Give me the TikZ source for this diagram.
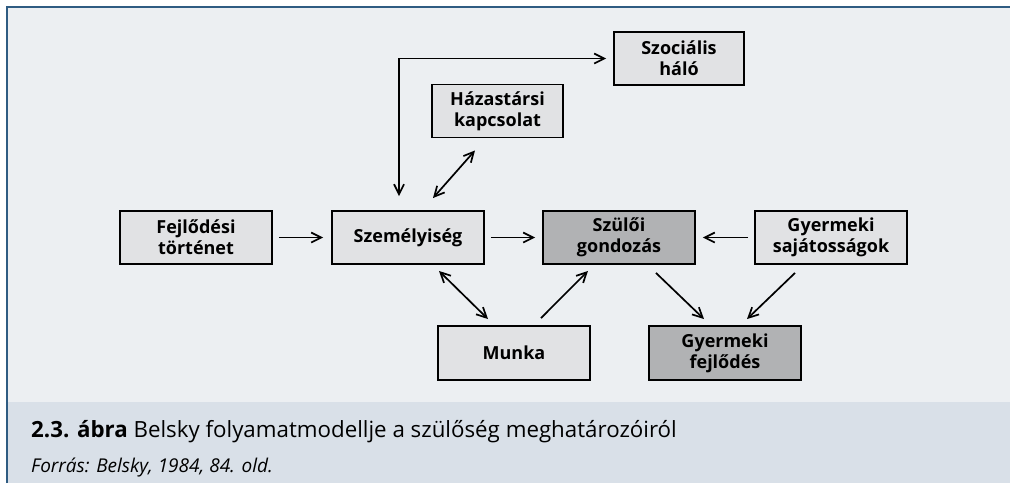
\documentclass[tikz,border=0pt]{standalone}
\usepackage{fontspec}
\setmainfont{Open Sans}
\usetikzlibrary{arrows.meta,calc}
\definecolor{panel}{HTML}{ECEFF2}
\definecolor{band}{HTML}{D9E0E8}
\definecolor{frame}{HTML}{2F5C82}
\definecolor{lightbox}{HTML}{E1E2E4}
\definecolor{darkbox}{HTML}{B1B2B4}
\tikzset{
  box/.style={draw=black, line width=1.9pt, fill=lightbox, minimum width=152pt,
    minimum height=53pt, inner sep=0pt, align=center,
    font=\fontsize{18}{21}\selectfont\bfseries},
  darkfill/.style={fill=darkbox},
  link/.style={line width=1.7pt, -{Straight Barb[length=10pt,width=10pt,line width=1.7pt]}},
  both/.style={line width=1.7pt, {Straight Barb[length=10pt,width=10pt,line width=1.7pt]}-{Straight Barb[length=10pt,width=10pt,line width=1.7pt]}}
}
\begin{document}
\begin{tikzpicture}[x=1pt,y=-1pt]
  % page and panels
  \useasboundingbox (0,0) rectangle (1010,483);
  \fill[white] (0,0) rectangle (1010,483);
  \fill[panel] (7,7) rectangle (1010,402);
  \fill[band] (7,402) rectangle (1010,483);
  \draw[frame, line width=1.3pt] (7,483) -- (7,7) -- (1010,7);

  % boxes
  \node[box] (fejl) at (196,237.5) {Fejlődési\\történet};
  \node[box] (szem) at (408,237.5) {Személyiség};
  \node[box, darkfill] (szul) at (619,237.5) {Szülői\\gondozás};
  \node[box] (gysaj) at (831,237.5) {Gyermeki\\sajátosságok};
  \node[box, minimum height=54pt] (munka) at (514,353) {Munka};
  \node[box, darkfill, minimum height=54pt] (gyfejl) at (725,353) {Gyermeki\\fejlődés};
  \node[box, minimum width=131pt] (haz) at (497.5,111) {Házastársi\\kapcsolat};
  \node[box, minimum width=130pt] (szoc) at (679,58.5) {Szociális\\háló};

  % connectors
  \draw[link, shorten <=6pt, shorten >=8pt] (fejl.east) -- (szem.west);
  \draw[link, shorten <=6pt, shorten >=7pt] (szem.east) -- (szul.west);
  \draw[link, shorten <=6pt, shorten >=7pt] (gysaj.west) -- (szul.east);
  \draw[both] ([xshift=-7pt]szoc.west) -| ([xshift=-9pt,yshift=14pt]szem.north);
  \draw[both] ([xshift=-22.5pt,yshift=-12pt]haz.south) -- ([xshift=25pt,yshift=12pt]szem.north);
  \draw[both] ([xshift=31pt,yshift=-6pt]szem.south) -- ([xshift=-26pt,yshift=6pt]munka.north);
  \draw[link] ([xshift=27pt,yshift=7pt]munka.north) -- ([xshift=-31pt,yshift=-6pt]szul.south);
  \draw[link] ([xshift=37pt,yshift=-8pt]szul.south) -- ([xshift=-21pt,yshift=6pt]gyfejl.north);
  \draw[link] ([xshift=-36pt,yshift=-8pt]gysaj.south) -- ([xshift=22pt,yshift=6pt]gyfejl.north);

  % caption
  \node[anchor=base west, inner sep=0pt, font=\fontsize{22.3}{26}\selectfont] (cap) at (31,437)
    {\textbf{2.3. ábra} Belsky folyamatmodellje a szülőség meghatározóiról};
  \node[anchor=base west, inner sep=0pt, font=\fontsize{19}{23}\selectfont\itshape] (src) at (31,472)
    {Forrás: Belsky, 1984, 84. old.};
\end{tikzpicture}
\end{document}
